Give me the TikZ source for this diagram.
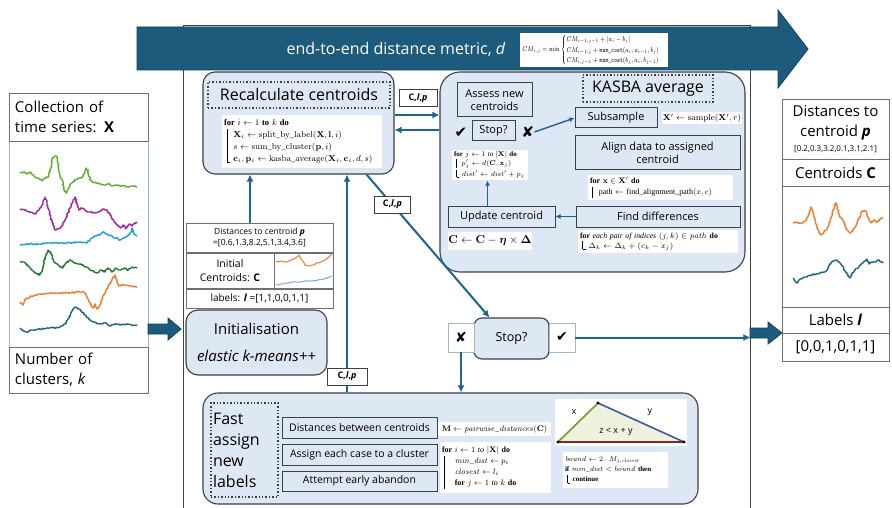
\documentclass[tikz,border=0pt]{standalone}
\usepackage{fix-cm}
\usepackage{amsmath}
\usepackage[no-math]{fontspec}
\setmainfont{Open Sans}
\newfontfamily\tms{Liberation Serif}
\newfontfamily\dvs{DejaVu Sans}
\usetikzlibrary{arrows.meta,decorations.pathmorphing}
\newcommand{\fsz}[2]{\fontsize{#1}{#2}\selectfont}
\newcommand{\algbar}{\makebox[1.1em][l]{\hspace{0.3em}\vrule width 0.4pt height 0.72\baselineskip depth 0.28\baselineskip}}
\newcommand{\algend}{\makebox[1.1em][l]{\hspace{0.3em}\vrule width 0.4pt height 0.72\baselineskip depth 0.1\baselineskip\rule[-0.1\baselineskip]{0.4em}{0.4pt}}}
\definecolor{bannerc}{HTML}{1D5B7C}
\definecolor{bannerd}{HTML}{123F57}
\definecolor{connc}{HTML}{1D6590}
\definecolor{lfill}{HTML}{DDE8F4}
\definecolor{bline}{HTML}{3A4048}
\definecolor{pline}{HTML}{707070}
\definecolor{plotb}{HTML}{9DB7CB}
\definecolor{sgreen}{HTML}{5DB02E}
\definecolor{spurple}{HTML}{A0239E}
\definecolor{slblue}{HTML}{1EA0DA}
\definecolor{sdgreen}{HTML}{1E7A32}
\definecolor{sorange}{HTML}{F07A2A}
\definecolor{sdblue}{HTML}{1E6185}
\definecolor{spale}{HTML}{7FAAD6}
\definecolor{trifill}{HTML}{EEF1DE}
\definecolor{tgreen}{HTML}{6E9E2E}
\definecolor{tblue}{HTML}{3A5AA0}
\definecolor{tred}{HTML}{7A2A20}
\tikzset{
  rbox/.style={draw=bline, fill=lfill, line width=1.1pt, rounded corners=#1, inner sep=0pt},
  rbox/.default=12pt,
  sbox/.style={draw=bline, fill=lfill, line width=1pt, inner sep=1pt, align=center, font=\fsz{11}{13}},
  dotbox/.style={draw=bline, dotted, line width=1.4pt, inner sep=0pt},
  wbox/.style={fill=white, inner sep=2pt, align=left},
  lab/.style={draw=bline, fill=white, line width=0.8pt, font=\bfseries\fsz{9}{10}, inner sep=2pt, minimum height=17pt},
  conn/.style={draw=connc, line width=2pt, -{Latex[length=7pt,width=7pt]}},
  pane/.style={draw=pline, line width=0.8pt, inner sep=0pt},
  series/.style={line width=1.4pt, line join=round, decorate, decoration={random steps, segment length=1.2pt, amplitude=0.7pt}},
  thinseries/.style={line width=1pt, line join=round, decorate, decoration={random steps, segment length=1.2pt, amplitude=0.4pt}},
  tickmark/.style={font=\dvs\fsz{15}{16}, inner sep=0pt},
  xcbox/.style={draw=plotb, fill=white, line width=0.8pt, minimum width=26pt, minimum height=29pt, inner sep=0pt, font=\dvs\fsz{14}{15}}
}
\begin{document}
\begin{tikzpicture}[x=1pt,y=-1pt]
\useasboundingbox (0,0) rectangle (892,508);
\fill[white] (0,0) rectangle (892,508);

% main frame
\node[draw=bline, line width=0.8pt, minimum width=567pt, minimum height=490pt, inner sep=0pt] (frame) at (466.5,270) {};

% banner
\fill[bannerc, draw=bannerd, line width=0.8pt] (137,27) -- (778,27) -- (778,10) -- (808,49) -- (778,88) -- (778,70) -- (137,70) -- cycle;
\node[font=\fsz{16}{19}, text=white] (bantxt) at (396,49) {end-to-end distance metric, \textit{d}};
\node[fill=white, align=center, minimum width=148pt, minimum height=34pt, inner sep=0pt, font=\fsz{7}{8.5}] (banf) at (594,50)
 {\resizebox*{143pt}{31pt}{$CM_{i,j}=\min\begin{cases}CM_{i-1,j-1}+|a_i-b_j|\\ CM_{i-1,j}+\mathtt{msm\_cost}(a_i,a_{i-1},b_j)\\ CM_{i,j-1}+\mathtt{msm\_cost}(b_j,a_i,b_{j-1})\end{cases}$}};

% left panel
\node[draw=plotb, line width=0.8pt, minimum width=139pt, minimum height=206pt, inner sep=0pt] (lpplot) at (78.5,244) {};
\node[pane, minimum width=139pt, minimum height=48pt, text width=127pt, align=left, font=\fsz{15}{20}] (lphead) at (78.5,117) {Collection of\\time series: \textbf{X}};
\node[pane, minimum width=139pt, minimum height=46pt, text width=127pt, align=left, font=\fsz{15}{20}] (lpfoot) at (78.5,370) {Number of\\clusters, \textit{k}};

\draw[series, sgreen] plot coordinates {(20,173) (24,172) (27,174) (30,172) (34,176) (38,178) (42,181) (46,178) (49,176) (51,168) (52,158) (55,156) (57,157) (58,163) (60,176) (62,180) (64,190) (66,193) (68,189) (70,185) (72,183) (75,180) (78,178) (81,178) (84,174) (86,168) (88,171) (90,180) (93,182) (96,183) (100,184) (104,185) (108,184) (112,186) (116,185) (120,186) (124,186) (128,187) (132,186) (137,187)};
\draw[series, spurple] plot coordinates {(20,209) (25,210) (30,212) (35,214) (39,210) (43,203) (45,197) (47,203) (50,215) (53,225) (55,230) (58,229) (62,226) (66,218) (70,208) (73,200) (75,197) (77,205) (79,210) (82,208) (86,211) (90,212) (95,213) (100,211) (104,209) (107,210) (110,215) (114,222) (118,226) (121,228) (123,225) (126,229) (129,224) (132,226) (135,223) (137,222)};
\draw[series, slblue] plot coordinates {(20,245) (30,244) (40,244) (50,243) (60,243) (70,243) (80,242) (86,243) (90,240) (95,236) (100,235) (104,232) (108,235) (112,236) (116,238) (120,240) (124,238) (128,236) (131,232) (132,228) (134,234) (137,236)};
\draw[series, sdgreen] plot coordinates {(20,262) (24,262) (28,266) (32,270) (36,273) (40,275) (43,268) (46,255) (48,250) (51,253) (54,262) (58,265) (62,268) (66,263) (70,260) (74,263) (78,264) (82,265) (86,267) (90,270) (94,272) (97,273) (101,270) (105,272) (108,268) (112,272) (116,268) (120,270) (124,268) (128,270) (132,267) (137,268)};
\draw[series, sorange] plot coordinates {(20,302) (23,305) (26,299) (30,297) (35,295) (40,294) (50,293) (60,293) (70,293) (80,292) (84,292) (87,297) (90,303) (93,308) (95,304) (97,309) (100,305) (104,295) (108,287) (112,280) (115,275) (117,281) (119,286) (124,285) (130,286) (137,287)};
\draw[series, sdblue] plot coordinates {(20,328) (23,331) (27,332) (32,330) (40,329) (50,328) (60,327) (65,324) (69,318) (72,311) (75,307) (78,309) (81,310) (85,315) (90,320) (96,323) (100,324) (105,323) (110,326) (115,324) (120,325) (126,324) (132,325) (137,325)};

% block arrows
\fill[bannerc, draw=bannerd, line width=0.8pt] (148,324) -- (168,324) -- (168,318) -- (181,329) -- (168,340) -- (168,334) -- (148,334) -- cycle;
\fill[bannerc, draw=bannerd, line width=0.8pt] (750,328) -- (768,328) -- (768,322) -- (782,333) -- (768,344) -- (768,338) -- (750,338) -- cycle;

% right panel
\node[pane, minimum width=107pt, minimum height=60pt, align=center, font=\fsz{15}{20}] (rp1) at (835.5,129) {Distances to\\centroid \textbf{\textit{p}}\\[-5pt]{\fsz{8}{9}[0.2,0.3,3.2,0.1,3.1,2.1]}};
\node[pane, minimum width=107pt, minimum height=27pt, font=\fsz{15}{18}] (rp2) at (835.5,172.5) {Centroids \textbf{C}};
\node[pane, minimum width=107pt, minimum height=121pt] (rp3) at (835.5,246.5) {};
\node[pane, minimum width=107pt, minimum height=26pt, font=\fsz{15}{18}] (rp4) at (835.5,320) {Labels \textbf{\textit{l}}};
\node[pane, minimum width=107pt, minimum height=28pt, font=\fsz{15}{18}] (rp5) at (835.5,347) {[0,0,1,0,1,1]};
\draw[series, sorange] plot coordinates {(793,223) (797,222) (801,223) (805,221) (808,216) (811,207) (813,212) (815,220) (817,226) (819,232) (821,235) (824,232) (827,229) (830,222) (833,210) (836,203) (838,210) (840,217) (843,221) (845,226) (848,231) (850,233) (853,230) (856,226) (859,219) (862,211) (865,211) (867,213) (869,220) (871,223) (874,220) (877,222) (880,219) (883,218)};
\draw[series, sdblue] plot coordinates {(793,278) (795,281) (797,283) (800,279) (804,277) (808,276) (812,275) (816,274) (820,273) (824,272) (827,270) (830,264) (833,261) (836,260) (839,262) (842,266) (845,271) (848,276) (850,278) (852,274) (855,270) (859,267) (863,263) (867,259) (869,264) (871,262) (875,262) (878,260) (881,262) (883,263)};

% recalculate centroids
\node[rbox=12pt, minimum width=191pt, minimum height=102pt] (recalc) at (298.5,123) {};
\node[dotbox, minimum width=182pt, minimum height=26pt, font=\fsz{16}{19}] (rtitle) at (299,95) {Recalculate centroids};
\node[wbox, text width=156pt, minimum height=53pt, font=\tms\fsz{8.5}{12}] (ralg) at (302,141.5)
 {\textbf{for} $i \leftarrow 1$ \textbf{to} $k$ \textbf{do}\\
  \algbar$\mathbf{X}_i \leftarrow \mathrm{split\_by\_label}(\mathbf{X},\mathbf{l},i)$\\
  \algbar$s \leftarrow \mathrm{sum\_by\_cluster}(\mathbf{p},i)$\\
  \algend$\mathbf{c}_i,\mathbf{p}_i \leftarrow \mathrm{kasba\_average}(\mathbf{X}_i,\mathbf{c}_i,d,s)$};

% KASBA average
\node[rbox=20pt, minimum width=305pt, minimum height=200pt] (kasba) at (592.5,172) {};
\node[dotbox, minimum width=130pt, minimum height=27pt, font=\fsz{16}{19}] (ktitle) at (648,88.5) {KASBA average};
\node[sbox, minimum width=75pt, minimum height=34pt] (assess) at (494.5,100) {Assess new\\centroids};
\node[tickmark] (kchk) at (461,133) {✔};
\node[sbox, minimum width=43pt, minimum height=20pt] (kstop) at (493.5,131) {Stop?};
\node[tickmark] (kx) at (528,132) {✘};
\node[sbox, minimum width=82pt, minimum height=20pt] (subs) at (616,118) {Subsample};
\node[wbox, align=center, minimum width=80pt, minimum height=12pt, inner sep=0.5pt, font=\tms\fsz{8.5}{9}] (fsamp) at (702,118) {$\mathbf{X}' \leftarrow \mathrm{sample}(\mathbf{X}',r)$};
\node[sbox, minimum width=165pt, minimum height=34pt] (align) at (657.5,153) {Align data to assigned\\centroid};
\node[wbox, text width=141pt, minimum height=25pt, font=\tms\fsz{8}{11}] (fforx) at (660.5,187.5)
 {\textbf{for} $\mathbf{x}\in\mathbf{X}'$ \textbf{do}\\ \algbar path $\leftarrow$ find\_alignment\_path$(x,c)$};
\node[sbox, minimum width=164pt, minimum height=21pt] (find) at (658,216.5) {Find differences};
\node[sbox, minimum width=107pt, minimum height=21pt] (upd) at (501.5,216.5) {Update centroid};
\node[wbox, text width=72pt, minimum height=30pt, font=\tms\fsz{7}{9}] (fforj) at (490,165)
 {\textbf{for} $j\leftarrow 1$ \textit{to} $|\mathbf{X}|$ \textbf{do}\\ \algbar$p'_j \leftarrow d(\mathbf{C},\mathbf{x}_j)$\\ \algend$\mathit{dist}' \leftarrow \mathit{dist}' + p_j$};
\node[wbox, align=center, minimum width=84pt, minimum height=18pt, inner sep=0.5pt, font=\tms\fsz{11.5}{12}] (fupd) at (490,241) {$\mathbf{C}\leftarrow\mathbf{C}-\boldsymbol{\eta}\times\boldsymbol{\Delta}$};
\node[wbox, text width=156pt, minimum height=23pt, font=\tms\fsz{7.8}{10}] (fpair) at (658,241.5)
 {\textbf{for} \textit{each pair of indices} $(j,k)\in \mathit{path}$ \textbf{do}\\ \algend$\Delta_k \leftarrow \Delta_k + (c_k - x_j)$};

% middle-left stack
\node[pane, fill=white, minimum width=147pt, minimum height=29pt, align=center, font=\fsz{8.5}{11}] (dist) at (259.5,237.5) {Distances to centroid \textbf{\textit{p}}\\=[0.6,1.3,8.2,5.1,3.4,3.6]};
\node[pane, fill=white, minimum width=88pt, minimum height=35pt, align=center, font=\fsz{10.5}{14}] (initc) at (230,270.5) {Initial\\Centroids: \textbf{C}};
\node[pane, fill=white, minimum width=59pt, minimum height=35pt] (initp) at (303.5,270.5) {};
\draw[thinseries, sorange] plot coordinates {(276,262) (281,261) (286,262) (291,260) (296,258) (299,255) (302,260) (305,265) (309,266) (313,265) (317,263) (321,262) (325,260) (329,257) (332,254)};
\draw[thinseries, spale] plot coordinates {(276,285) (282,284) (288,283) (294,282) (300,282) (306,281) (312,281) (318,280) (324,279) (330,277) (332,276)};
\node[pane, fill=white, minimum width=147pt, minimum height=19pt, font=\fsz{10}{12}] (labels) at (259.5,298.5) {labels: \textbf{\textit{l}} =[1,1,0,0,1,1]};
\node[rbox=12pt, minimum width=141pt, minimum height=65pt, align=center, font=\fsz{15}{27}] (init) at (256.5,342.5) {Initialisation\\\textit{elastic k-means++}};

% main stop
\node[rbox=8pt, minimum width=75pt, minimum height=41pt, font=\fsz{12.5}{14}] (mstop) at (511.5,338.5) {Stop?};
\node[xcbox] (mx) at (461,337.5) {✘};
\node[xcbox] (mchk) at (562,337.5) {✔};

% fast assign
\node[rbox=15pt, minimum width=495pt, minimum height=111pt] (fast) at (450.5,448.5) {};
\node[dotbox, minimum width=67pt, minimum height=94pt, text width=63pt, align=left, font=\fsz{16}{21}] (ftitle) at (244.5,450) {Fast\\assign\\new\\labels};
\node[sbox, minimum width=155pt, minimum height=21pt, font=\fsz{10.5}{12}] (fb1) at (359.5,427.5) {Distances between centroids};
\node[sbox, minimum width=155pt, minimum height=21pt, font=\fsz{10.5}{12}] (fb2) at (359.5,454.5) {Assign each case to a cluster};
\node[sbox, minimum width=155pt, minimum height=20pt, font=\fsz{10.5}{12}] (fb3) at (359.5,481) {Attempt early abandon};
\node[wbox, align=center, minimum width=113pt, minimum height=14pt, inner sep=0.5pt, font=\tms\fsz{8}{9}] (fM) at (494.5,429) {$\mathbf{M}\leftarrow \mathit{pairwise\_distances}(\mathbf{C})$};
\node[wbox, text width=107pt, minimum height=51pt, font=\tms\fsz{8}{11}] (ffori) at (495.5,467.5)
 {\textbf{for} $i\leftarrow 1$ \textit{to} $|\mathbf{X}|$ \textbf{do}\\
  \algbar\hspace{0.5em}$\mathit{min\_dist}\leftarrow p_i$\\
  \algbar\hspace{0.5em}$\mathit{closest}\leftarrow l_i$\\
  \algbar\hspace{0.5em}\textbf{for} $j\leftarrow 1$ \textit{to} $k$ \textbf{do}};
\node[fill=white, minimum width=132pt, minimum height=47pt, inner sep=0pt] (ftri) at (621,422.5) {};
\coordinate (tA) at (558,442);
\coordinate (tB) at (598,403);
\coordinate (tC) at (684,442);
\fill[trifill] (tA) -- (tB) -- (tC) -- cycle;
\draw[tgreen, line width=1.6pt] (tA) -- (tB);
\draw[tblue, line width=1.6pt] (tB) -- (tC);
\draw[tred, line width=1.6pt] (tC) -- (tA);
\fill (tA) circle (1.6pt) (tB) circle (1.6pt) (tC) circle (1.6pt);
\node[font=\fsz{9}{10}] (tx) at (574,412) {x};
\node[font=\fsz{9}{10}] (ty) at (650,412) {y};
\node[font=\fsz{9}{10}] (tz) at (616,432) {z < x + y};
\node[wbox, text width=101pt, minimum height=36pt, font=\tms\fsz{7}{10}] (fbound) at (615.5,470)
 {$\mathit{bound}\leftarrow 2\cdot M_{j,\mathit{closest}}$\\ \textbf{if} $\mathit{min\_dist} < \mathit{bound}$ \textbf{then}\\ \algend\textbf{continue}};

% connectors
\draw[conn] ([yshift=8pt]recalc.east) -- ([yshift=8pt]recalc.east -| kasba.west);
\draw[conn] ([yshift=-7pt]recalc.east -| kasba.west) -- ([yshift=-7pt]recalc.east);
\node[lab, minimum width=38pt] (lab1) at (418,98) {C,\textit{l},\textit{p}};
\draw[conn] ([xshift=-28pt]recalc.south east) -- ([xshift=-22pt]mstop.north) node[lab, pos=0.21, minimum width=36pt] (lab2) {C,\textit{l},\textit{p}};
\draw[conn] ([xshift=-9.5pt]dist.north) -- ([xshift=-9.5pt]dist.north |- recalc.south);
\draw[conn] ([xshift=-103.5pt]fast.north) -- ([xshift=-103.5pt]fast.north |- recalc.south) node[lab, pos=0.073, minimum width=40pt] (lab3) {C,\textit{l},\textit{p}};
\draw[conn] (mx.south) -- (mx.south |- fast.north);
\draw[conn] (mchk.east) -- (mchk.east -| frame.east);
\draw[conn, line width=1.4pt, -{Latex[length=5pt,width=5pt]}] (kx.east) -- (subs.west);
\draw[conn, line width=1.4pt, -{Latex[length=5pt,width=5pt]}] (find.west) -- (upd.east);
\draw[conn, line width=1.4pt, -{Latex[length=5pt,width=5pt]}] ([xshift=-14pt]upd.north) -- ([xshift=-14pt]upd.north |- fforj.south);
\end{tikzpicture}
\end{document}
